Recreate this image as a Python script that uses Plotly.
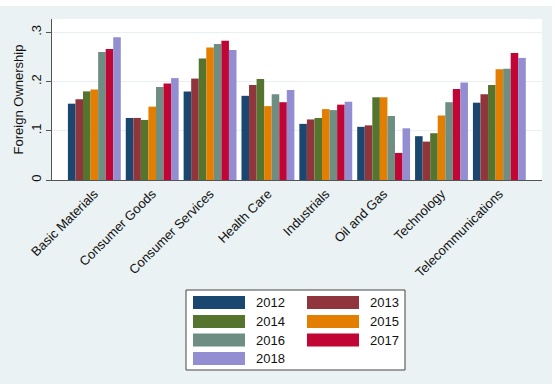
import plotly.graph_objects as go

categories = ["Basic Materials", "Consumer Goods", "Consumer Services", "Health Care",
              "Industrials", "Oil and Gas", "Technology", "Telecommunications"]
years = ["2012", "2013", "2014", "2015", "2016", "2017", "2018"]
v2012 = [0.155, 0.126, 0.180, 0.171, 0.114, 0.108, 0.089, 0.157]
v2013 = [0.164, 0.126, 0.206, 0.193, 0.123, 0.111, 0.078, 0.174]
v2014 = [0.180, 0.122, 0.247, 0.205, 0.126, 0.168, 0.095, 0.193]
v2015 = [0.184, 0.149, 0.269, 0.150, 0.144, 0.168, 0.131, 0.225]
v2016 = [0.260, 0.189, 0.276, 0.174, 0.142, 0.130, 0.158, 0.226]
v2017 = [0.266, 0.196, 0.283, 0.158, 0.153, 0.055, 0.185, 0.258]
v2018 = [0.290, 0.207, 0.264, 0.183, 0.159, 0.105, 0.198, 0.248]
series = [v2012, v2013, v2014, v2015, v2016, v2017, v2018]
colors = ["#1a476f", "#90353b", "#55752f", "#e37e00", "#6e8e84", "#c10534", "#938dd2"]
ytick_vals = [0, 0.1, 0.2, 0.3]
ytick_text = ["0", ".1", ".2", ".3"]

W, H = 555, 384
L, R, T, B = 52, 13, 19, 204
pw, ph = W - L - R, H - T - B
BG = "#eaf2f3"
FONT = "Liberation Sans, Arial, sans-serif"

def px2x(px):
    return (px - L) / pw

def py2y(py):
    return (H - B - py) / ph

fig = go.Figure()
for yr, vals, col in zip(years, series, colors):
    fig.add_trace(go.Bar(x=categories, y=vals, name=yr, marker=dict(color=col, line=dict(width=0))))

fig.update_layout(
    width=W, height=H,
    margin=dict(l=L, r=R, t=T, b=B, autoexpand=False),
    paper_bgcolor=BG, plot_bgcolor="white",
    barmode="group", bargap=0.086, bargroupgap=0,
    showlegend=False,
    font=dict(family=FONT, color="#111", size=13),
)
fig.update_xaxes(
    type="category", range=[-0.732, 7.737], showgrid=False,
    showline=True, linecolor="#555", linewidth=1.2,
    ticks="", tickangle=-45, tickfont=dict(size=13, color="#111"),
    automargin=False,
)
fig.update_yaxes(
    range=[0, 0.327], tickvals=ytick_vals, ticktext=ytick_text,
    showgrid=True, gridcolor="#e8f0f2", gridwidth=1, zeroline=False,
    showline=True, linecolor="#555", linewidth=1.2,
    ticks="outside", ticklen=5, tickcolor="#555", tickangle=-90,
    tickfont=dict(size=13, color="#111"),
    title=dict(text="Foreign Ownership", font=dict(size=13, color="#111"), standoff=2),
    automargin=False,
)

shapes = []
ann = []
# white outer edges
shapes.append(dict(type="rect", xref="paper", yref="paper", x0=px2x(0), x1=px2x(W),
                   y0=py2y(0), y1=py2y(6), fillcolor="white", line=dict(width=0), layer="above"))
shapes.append(dict(type="rect", xref="paper", yref="paper", x0=px2x(552), x1=px2x(W),
                   y0=py2y(H), y1=py2y(0), fillcolor="white", line=dict(width=0), layer="above"))
# legend box
shapes.append(dict(type="rect", xref="paper", yref="paper", x0=px2x(186), x1=px2x(405),
                   y0=py2y(370), y1=py2y(290), fillcolor="white", line=dict(color="#444", width=1),
                   layer="above"))
col_sw = [193, 307]
col_tx = [254, 368]
row_c = [302.5, 321.5, 340, 358.5]
for i, (yr, col) in enumerate(zip(years, colors)):
    r, c = divmod(i, 2)
    cy = row_c[r]
    shapes.append(dict(type="rect", xref="paper", yref="paper",
                       x0=px2x(col_sw[c]), x1=px2x(col_sw[c] + 52),
                       y0=py2y(cy + 6.5), y1=py2y(cy - 6.5),
                       fillcolor=col, line=dict(width=0), layer="above"))
    ann.append(dict(xref="paper", yref="paper", x=px2x(col_tx[c]), y=py2y(cy),
                    text=yr, showarrow=False, xanchor="left", yanchor="middle",
                    font=dict(size=13, color="#111", family=FONT)))
fig.update_layout(shapes=shapes, annotations=ann)

fig.write_html("out.html")
